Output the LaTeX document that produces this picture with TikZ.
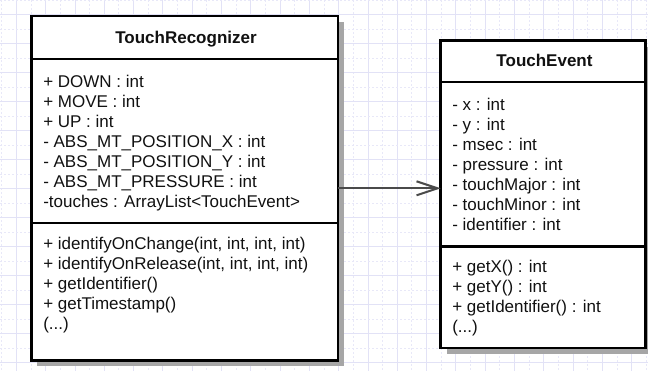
\documentclass[tikz,border=0pt]{standalone}
\usepackage{fontspec}
\setmainfont{Liberation Sans}
\usetikzlibrary{arrows.meta,shadows}
\definecolor{gridmaj}{HTML}{E2E2F6}
\definecolor{gridmin}{HTML}{E8E8F8}
\definecolor{shadowgray}{HTML}{A6A6A6}
\definecolor{arrowgray}{HTML}{4A4A4A}
\definecolor{txt}{HTML}{111111}
\tikzset{
  classbox/.style={draw=black, line width=1.9pt, fill=white, inner sep=0pt, outer sep=0pt,
    anchor=north west,
    drop shadow={shadow xshift=4.5pt, shadow yshift=-4.5pt, fill=shadowgray, opacity=1}},
  sepline/.style={line width=1.9pt, draw=black},
  member/.style={anchor=base west, inner sep=0pt, font=\fontsize{12.75}{15}\selectfont, text=txt},
  classtitle/.style={anchor=base, inner sep=0pt, font=\fontsize{12.75}{15}\selectfont\bfseries, text=txt},
  assoc/.style={line width=1.5pt, draw=arrowgray,
    -{Straight Barb[length=15.75pt, width=10.5pt, line width=1.5pt]}},
  gridmajor/.style={draw=gridmaj, line width=0.75pt},
  gridminor/.style={draw=gridmin, line width=0.75pt, dash pattern=on 1.5pt off 1.5pt},
}
\begin{document}
\begin{tikzpicture}[x=0.75pt, y=-0.75pt]
\useasboundingbox (0,0) rectangle (648,371);
\fill[white] (0,0) rectangle (648,371);
\begin{scope}
  \clip (0,0) rectangle (648,371);
  \foreach \k in {0,...,22} {
    \draw[gridmajor] ({16.4+29.3*\k},0) -- ({16.4+29.3*\k},371);
    \draw[gridminor] ({1.75+29.3*\k},0) -- ({1.75+29.3*\k},371);
  }
  \foreach \k in {0,...,13} {
    \draw[gridmajor] (0,{14.5+29*\k}) -- (648,{14.5+29*\k});
    \draw[gridminor] (0,{29*\k}) -- (648,{29*\k});
  }
\end{scope}

% class boxes
\node[classbox, minimum width={306.7*0.75pt}, minimum height={344.2*0.75pt}] (tr) at (31.3,16.2) {};
\node[classbox, minimum width={204.6*0.75pt}, minimum height={307.5*0.75pt}] (te) at (440.7,40.5) {};

% compartment separators
\draw[sepline] (31.3,59) -- (338,59);
\draw[sepline] (31.3,223) -- (338,223);
\draw[sepline] (440.7,82) -- (645.3,82);
\draw[sepline] (440.7,246.3) -- (645.3,246.3);

% titles
\node[classtitle] (trtitle) at (186,43) {TouchRecognizer};
\node[classtitle] (tetitle) at (544.5,66.7) {TouchEvent};

% TouchRecognizer attributes
\foreach \t [count=\i] in {
  {+ DOWN : int},
  {+ MOVE : int},
  {+ UP : int},
  {- ABS\_MT\_POSITION\_X : int},
  {- ABS\_MT\_POSITION\_Y : int},
  {- ABS\_MT\_PRESSURE : int},
  {-touches : ArrayList<TouchEvent>}}
  \node[member] (tra\i) at (43,{87+20*(\i-1)}) {\t};

% TouchRecognizer methods
\foreach \t [count=\i] in {
  {+ identifyOnChange(int, int, int, int)},
  {+ identifyOnRelease(int, int, int, int)},
  {+ getIdentifier()},
  {+ getTimestamp()}}
  \node[member] (trm\i) at (43,{249.6+20*(\i-1)}) {\t};
\node[member] (trm5) at (43,329.6) {(...)};

% TouchEvent attributes
\foreach \t [count=\i] in {
  {- x : int},
  {- y : int},
  {- msec : int},
  {- pressure : int},
  {- touchMajor : int},
  {- touchMinor : int},
  {- identifier : int}}
  \node[member] (tea\i) at (452,{110+20*(\i-1)}) {\t};

% TouchEvent methods
\foreach \t [count=\i] in {
  {+ getX() : int},
  {+ getY() : int},
  {+ getIdentifier() : int}}
  \node[member] (tem\i) at (452,{272.5+20*(\i-1)}) {\t};
\node[member] (tem4) at (452,332.5) {(...)};

% association
\draw[assoc] (tr.east) -- (tr.east -| te.west);
\end{tikzpicture}
\end{document}
